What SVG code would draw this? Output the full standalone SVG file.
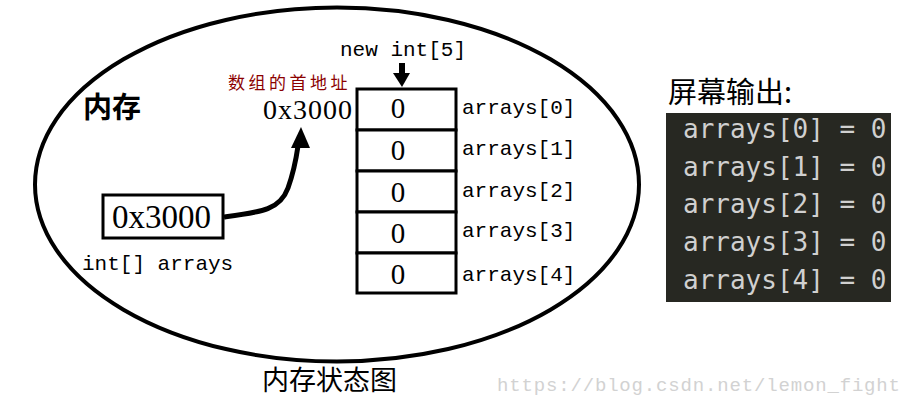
<svg xmlns="http://www.w3.org/2000/svg" width="913" height="402" viewBox="0 0 913 402">
<style>
.mono{font-family:"Liberation Mono","DejaVu Sans Mono",monospace;fill:#000}
.serif{font-family:"Liberation Serif","Noto Sans CJK SC",serif;fill:#000}
.cjk{font-family:"Noto Sans CJK SC",sans-serif}
.cell{fill:#fff;stroke:#000;stroke-width:3}
.zero{font-family:"Liberation Serif",serif;font-size:29px;text-anchor:middle}
.out{font-family:"DejaVu Sans Mono","Liberation Mono",monospace;font-size:26px;fill:#d0d0d0}
</style>
<rect width="913" height="402" fill="#fff"/>
<g id="memory">
<ellipse cx="337" cy="184.5" rx="302" ry="177" fill="none" stroke="#000" stroke-width="4"/>
<text x="83" y="118" class="cjk" font-size="29" font-weight="bold">内存</text>
</g>
<g id="new-label">
<text x="340" y="56" class="mono" font-size="21">new int[5]</text>
</g>
<g id="address-label">
<text x="228" y="89" class="cjk" font-size="17" fill="#8b0000" letter-spacing="3.5">数组的首地址</text>
<text x="263" y="119" class="serif" font-size="28" letter-spacing="1">0x3000</text>
</g>
<g id="array">
<rect class="cell" x="357" y="89" width="99" height="41"/>
<rect class="cell" x="357" y="130" width="99" height="41"/>
<rect class="cell" x="357" y="171" width="99" height="41"/>
<rect class="cell" x="357" y="212" width="99" height="41"/>
<rect class="cell" x="357" y="253" width="99" height="40"/>
<text class="zero" x="398" y="118">0</text>
<text class="zero" x="398" y="160">0</text>
<text class="zero" x="398" y="202">0</text>
<text class="zero" x="398" y="243">0</text>
<text class="zero" x="398" y="284">0</text>
<text class="mono" font-size="21" x="462" y="114">arrays[0]</text>
<text class="mono" font-size="21" x="462" y="155">arrays[1]</text>
<text class="mono" font-size="21" x="462" y="197">arrays[2]</text>
<text class="mono" font-size="21" x="462" y="237">arrays[3]</text>
<text class="mono" font-size="21" x="462" y="281">arrays[4]</text>
</g>
<g id="var">
<rect x="103" y="195" width="120" height="43" fill="#fff" stroke="#000" stroke-width="3"/>
<text x="112" y="228" class="serif" font-size="33">0x3000</text>
<text x="82" y="270" class="mono" font-size="21">int[] arrays</text>
</g>
<g id="connectors">
<path d="M224,217 C262,212 280,210 288,188 C293,174 296,160 298,146" fill="none" stroke="#000" stroke-width="5"/>
<polygon points="301,127 291,148 310,148" fill="#000"/>
<rect x="399" y="63" width="6" height="11" fill="#000"/>
<polygon points="393,73 410,73 402,87" fill="#000"/>
</g>
<g id="screen">
<text x="668" y="103" class="cjk" font-size="29" fill="#000">屏幕输出:</text>
<rect x="666" y="113" width="225" height="189" fill="#272822"/>
<text class="out" x="683" y="138">arrays[0] = 0</text>
<text class="out" x="683" y="176">arrays[1] = 0</text>
<text class="out" x="683" y="213">arrays[2] = 0</text>
<text class="out" x="683" y="251">arrays[3] = 0</text>
<text class="out" x="683" y="289">arrays[4] = 0</text>
</g>
<g id="caption">
<text x="262" y="390" class="cjk" font-size="27" fill="#000">内存状态图</text>
<text x="497" y="391" font-family="Liberation Mono, monospace" font-size="19" style="fill:#d2d2d2" textLength="403">https://blog.csdn.net/lemon_fight</text>
</g>
</svg>
